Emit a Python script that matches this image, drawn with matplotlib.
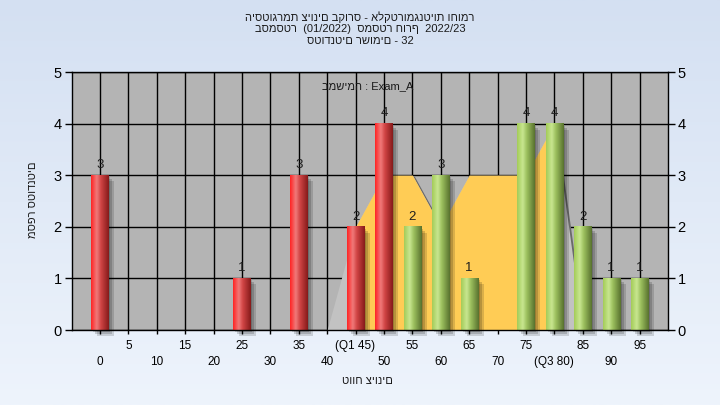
import numpy as np
import matplotlib
matplotlib.use('Agg')
import matplotlib.pyplot as plt
from matplotlib.patches import Rectangle
from matplotlib.transforms import ScaledTranslation
from matplotlib.colors import to_rgb

FONT = ['Liberation Sans', 'DejaVu Sans']
plt.rcParams['font.family'] = FONT

# ---------------- data ----------------
title_lines = ["היסטוגרמת ציונים בקורס - אלקטרומגנטיות וחומר",
               "בסמסטר  (01/2022)  סמסטר חורף  2022/23",
               "סטודנטים רשומים - 32"]
task_label = "במשימה : Exam_A"
x_title = "טווח ציונים"
y_title = "מספר סטודנטים"

grades = [0, 5, 10, 15, 20, 25, 30, 35, 40, 45, 50, 55, 60, 65, 70, 75, 80, 85, 90, 95]
counts = [3, 0, 0, 0, 0, 1, 0, 3, 0, 2, 4, 2, 3, 1, 0, 4, 4, 2, 1, 1]
tick_labels = ["0", "5", "10", "15", "20", "25", "30", "35", "40", "(Q1 45)",
               "50", "55", "60", "65", "70", "75", "(Q3 80)", "85", "90", "95"]
area_vals = [0, 0, 0, 0, 0, 0, 0, 0, 0, 2, 3, 3, 2, 3, 3, 3, 4, 0, 0, 0]
q1_grade = 45
q3_grade = 80
red_limit = 50
y_max = 5

# ---------------- figure ----------------
W, H = 720, 405
fig = plt.figure(figsize=(W / 100, H / 100), dpi=100)

bg = fig.add_axes([0, 0, 1, 1], zorder=-10)
g = np.linspace(0, 1, 256)[:, None, None]
top_c = np.array(to_rgb('#D4E0F2'))
bot_c = np.array(to_rgb('#EEF4FC'))
bg.imshow(top_c * (1 - g) + bot_c * g, aspect='auto', extent=[0, 1, 0, 1], origin='upper')
bg.axis('off')

ax_l, ax_r, ax_t, ax_b = 71.5, 668, 72, 330
ax = fig.add_axes([ax_l / W, (H - ax_b) / H, (ax_r - ax_l) / W, (ax_b - ax_t) / H])
ax.set_facecolor('#B4B4B4')

x = np.arange(len(grades))
ax.set_xlim(-1, len(grades))
ax.set_ylim(0, y_max)

# grid / ticks
ax.set_xticks(x[::2], [tick_labels[i] for i in x[::2]])
ax.set_xticks(x[1::2], [tick_labels[i] for i in x[1::2]], minor=True)
ax.set_yticks(range(y_max + 1))
ax.tick_params(axis='x', which='major', length=3, width=1, pad=16, labelsize=8.5, color='black')
ax.tick_params(axis='x', which='minor', length=3, width=1, pad=4, labelsize=8.5, color='black')
ax.tick_params(axis='y', which='major', length=5, width=1, pad=2, labelsize=10.5,
               left=True, right=True, labelleft=True, labelright=True)
ax.set_axisbelow(True)
ax.grid(True, which='both', axis='both', color='black', lw=1.0)
for s in ax.spines.values():
    s.set_color('black')
    s.set_linewidth(1.0)
    s.set_zorder(6)

# area series (frequency outline)
px = 1 / 100.0
shadow_tr = ax.transData + ScaledTranslation(2 * px, -1 * px, fig.dpi_scale_trans)
ax.fill_between(x, area_vals, color='#6A6A6A', lw=0, zorder=1.0, transform=shadow_tr)
ax.fill_between(x, area_vals, color='#C2C2C2', lw=0, zorder=1.1)
qi1, qi3 = grades.index(q1_grade), grades.index(q3_grade)
ax.fill_between(x[qi1:qi3 + 1], area_vals[qi1:qi3 + 1], color='#FFCC55', lw=0, zorder=1.2)


def gradient(stops, n=64):
    pos = np.array([p for p, _ in stops])
    cols = np.array([to_rgb(c) for _, c in stops])
    t = np.linspace(0, 1, n)
    return np.stack([np.interp(t, pos, cols[:, k]) for k in range(3)], axis=-1)


red_grad = gradient([(0, '#FF2424'), (0.32, '#F07A7A'), (0.55, '#D14545'), (1, '#861A1A')])
green_grad = gradient([(0, '#A4CC58'), (0.32, '#C8E690'), (0.55, '#9CC05E'), (1, '#58722E')])

bw = 0.6
for i, v in enumerate(counts):
    if v <= 0:
        continue
    # soft shadow
    for d, a in [(2, 0.16), (4, 0.16), (6, 0.14)]:
        tr = ax.transData + ScaledTranslation(d * px, -d * px, fig.dpi_scale_trans)
        ax.add_patch(Rectangle((i - bw / 2, 0), bw, v, transform=tr, color='black',
                               alpha=a, lw=0, zorder=2, clip_on=False))
    grad = red_grad if grades[i] <= red_limit else green_grad
    ax.imshow(grad[None, :, :], extent=[i - bw / 2, i + bw / 2, 0, v], aspect='auto',
              interpolation='bilinear', zorder=3)
    ax.text(i, v + 0.14, str(v), ha='center', va='baseline', fontsize=9.5,
            color='#1E1E1E', zorder=5)

ax.set_xlim(-1, len(grades))
ax.set_ylim(0, y_max)

ax.text(0.497, 0.946, task_label, transform=ax.transAxes, ha='center', va='center',
        fontsize=8, color='#1A1A1A', zorder=7)

# titles
for k, line in enumerate(title_lines):
    fig.text(0.5, 1 - (17.5 + 12 * k) / H, line, ha='center', va='center',
             fontsize=8, color='#1A1A1A')
fig.text(367 / W, 1 - 381 / H, x_title, ha='center', va='center', fontsize=8, color='#1A1A1A')
fig.text(33 / W, 1 - 200 / H, y_title, ha='center', va='center', rotation=90,
         fontsize=8, color='#1A1A1A')

fig.savefig('out.png', dpi=100)
